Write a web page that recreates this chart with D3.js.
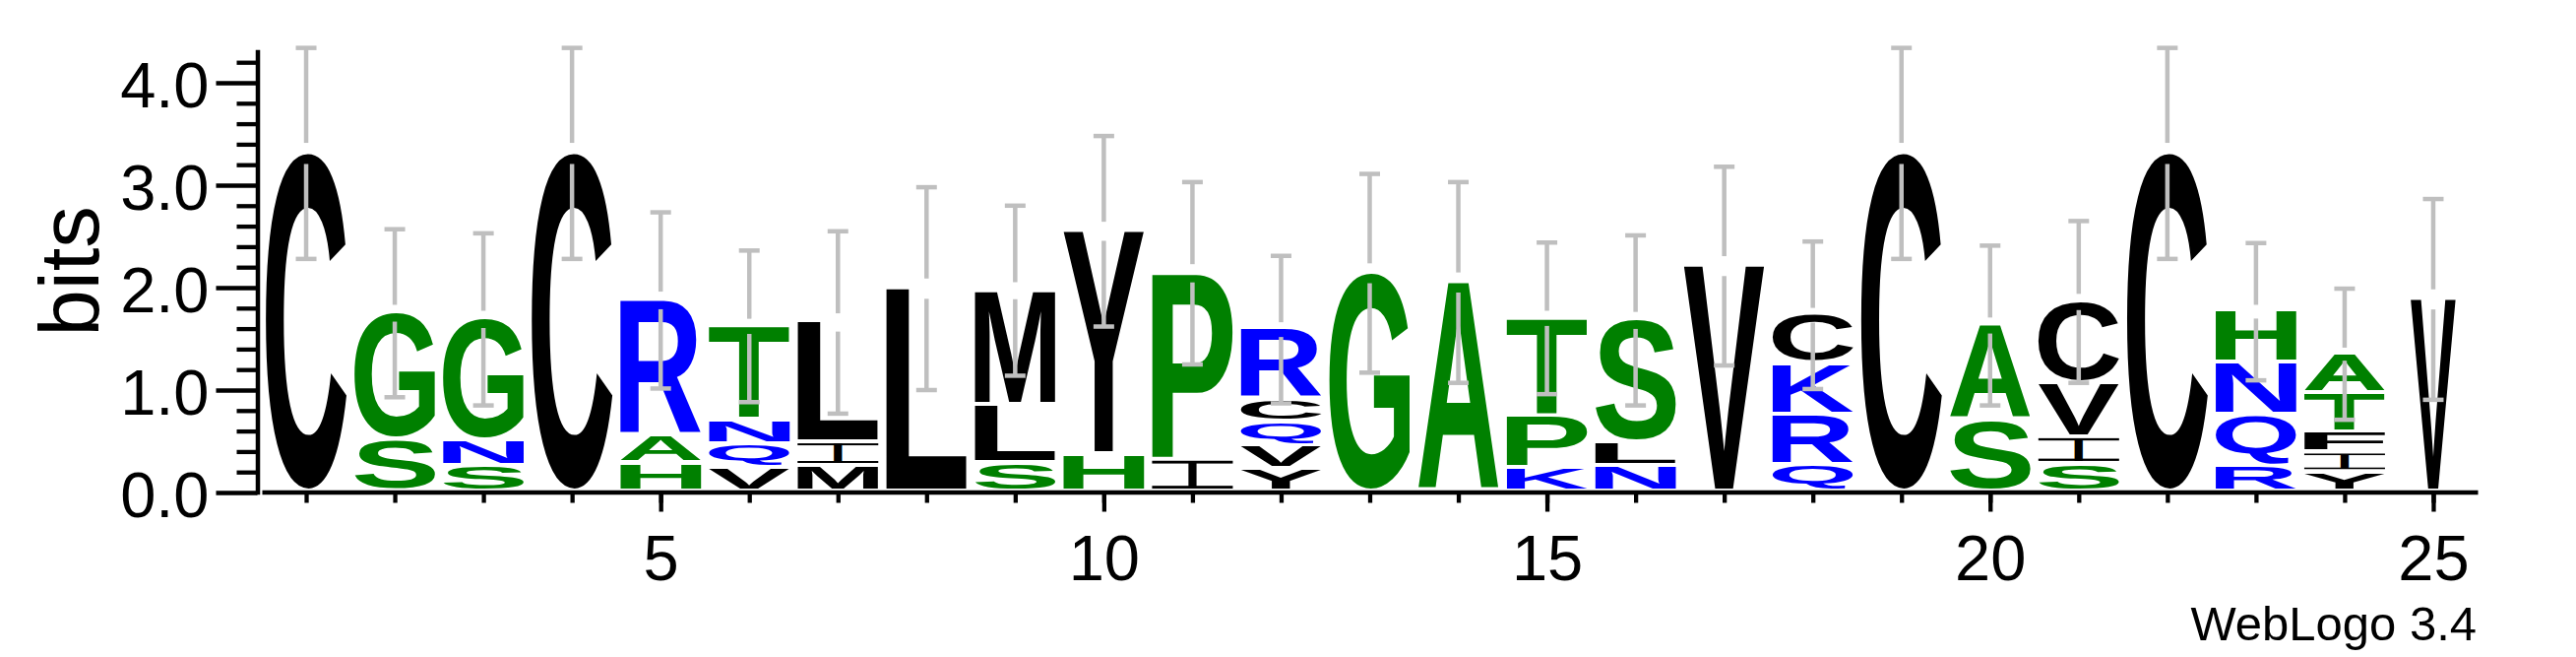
<!DOCTYPE html>
<html><head><meta charset="utf-8">
<script src="https://cdn.jsdelivr.net/npm/d3@7"></script>
<style>html,body{margin:0;padding:0;background:#fff;} svg{display:block}</style>
</head><body>
<script>
// ---------------- data ----------------
const positions = [1,2,3,4,5,6,7,8,9,10,11,12,13,14,15,16,17,18,19,20,21,22,23,24,25];
// letters of each stack, listed from bottom to top
const stackLetters = [
  ["C"], ["S","G"], ["S","N","G"], ["C"], ["H","A","R"],
  ["V","Q","N","T"], ["M","I","L"], ["L"], ["S","L","M"], ["H","Y"],
  ["I","P"], ["Y","V","Q","C","R"], ["G"], ["A"], ["K","P","T"],
  ["N","L","S"], ["V"], ["Q","R","K","C"], ["C"], ["S","A"],
  ["S","I","V","C"], ["C"], ["R","Q","N","H"], ["Y","I","F","T","A"], ["V"]
];
// heights in bits, same order as stackLetters
const stackBits = [
  [3.31], [0.51,1.24], [0.25,0.25,1.19], [3.31], [0.275,0.27,1.33],
  [0.24,0.225,0.237,0.92], [0.25,0.23,1.18], [1.99], [0.28,0.57,1.12], [0.365,2.185],
  [0.31,1.83], [0.22,0.23,0.23,0.22,0.69], [2.14], [2.05], [0.23,0.51,0.96],
  [0.25,0.23,1.20], [2.21], [0.26,0.49,0.50,0.48], [3.31], [0.70,0.93],
  [0.27,0.26,0.53,0.80], [3.31], [0.25,0.50,0.505,0.51], [0.19,0.19,0.195,0.385,0.39], [1.885]
];
// fraction of non-gap symbols in each column (stack width scaling)
const columnOccupancy = [1,1,1,1,1,1,1,1,1,1,1,1,1,1,1,1,1,1,1,1,1,1,1,1,0.56];
// half length of each error bar, bits
const errorBits = [1.03,0.82,0.84,1.03,0.86,0.74,0.89,0.99,0.83,0.93,0.89,0.72,0.97,0.98,0.74,0.83,0.97,0.72,1.03,0.78,0.79,1.03,0.67,0.64,0.98];
const xTickLabels = [5,10,15,20,25];
const yMajorTicks = [0,1,2,3,4];
const yMinorTicks = [0.2,0.4,0.6,0.8,1.2,1.4,1.6,1.8,2.2,2.4,2.6,2.8,3.2,3.4,3.6,3.8,4.2];
const yMax = 4.32;
const hydrophilic = "RKDENQ", neutral = "SGHTAP", hydrophobic = "YVMCLFIW";
const colorOf = ch => hydrophilic.includes(ch) ? "#0000ff" : neutral.includes(ch) ? "#008000" : "#000000";

// ---------------- layout ----------------
const W = 2617, H = 667;
const FONT = '"Liberation Sans", Arial, Helvetica, sans-serif';
const svg = d3.select("body").append("svg").attr("width", W).attr("height", H);

const x = d3.scaleLinear().domain([0.5, 25.5]).range([266, 2517]);
const y = d3.scaleLinear().domain([0, yMax]).range([500, 500 - yMax * 104]);
const stackW = 82;

// glyph ink metrics
const ctx = document.createElement("canvas").getContext("2d");
const GF = 200;
ctx.font = `bold ${GF}px ${FONT}`;
const metricCache = {};
function ink(ch) {
  if (!metricCache[ch]) {
    const m = ctx.measureText(ch);
    let l = m.actualBoundingBoxLeft, r = m.actualBoundingBoxRight,
        a = m.actualBoundingBoxAscent, d = m.actualBoundingBoxDescent;
    if (!(r + l > 0) || !(a + d > 0)) { l = 0; r = GF * 0.7; a = GF * 0.72; d = 0; }
    metricCache[ch] = {l, r, a, d};
  }
  return metricCache[ch];
}
function drawGlyph(g, ch, x0, y0, w, h, color) {
  const m = ink(ch);
  const sx = w / (m.l + m.r), sy = h / (m.a + m.d);
  g.append("text")
    .attr("transform", `translate(${x0},${y0}) scale(${sx},${sy}) translate(${m.l},${m.a})`)
    .attr("font-family", FONT).attr("font-weight", "bold").attr("font-size", GF)
    .attr("fill", color).text(ch);
}

// ---------------- letters ----------------
const gLetters = svg.append("g");
positions.forEach((p, i) => {
  let base = 0;
  const cx = x(p);
  const sw0 = stackW * columnOccupancy[i];
  stackLetters[i].forEach((ch, j) => {
    const h = stackBits[i][j];
    const top = y(base + h);        // glyph top
    const bottom = y(base) - 4;     // glyph bottom
    const gh = bottom - top;
    const color = colorOf(ch);
    if (gh > 0.5) {
      if (ch === "I") {
        const sw = sw0 * 0.105;
        drawGlyph(gLetters, ch, cx - sw / 2, top, sw, gh, color);
        const bh = Math.max(1, gh * 0.1);
        gLetters.append("rect").attr("x", cx - sw0 / 2).attr("y", top).attr("width", sw0).attr("height", bh).attr("fill", color);
        gLetters.append("rect").attr("x", cx - sw0 / 2).attr("y", bottom - bh).attr("width", sw0).attr("height", bh).attr("fill", color);
      } else {
        drawGlyph(gLetters, ch, cx - sw0 / 2, top, sw0, gh, color);
      }
    }
    base += h;
  });
});

// ---------------- error bars ----------------
const gErr = svg.append("g").attr("stroke", "#bfbfbf").attr("stroke-width", 4.5).attr("fill", "none");
positions.forEach((p, i) => {
  const total = d3.sum(stackBits[i]);
  const c = y(total);
  const e = y(0) - y(errorBits[i]);
  const cx = x(p);
  gErr.append("line").attr("x1", cx).attr("x2", cx).attr("y1", c - e).attr("y2", c - 0.1 * e);
  gErr.append("line").attr("x1", cx).attr("x2", cx).attr("y1", c + 0.1 * e).attr("y2", c + e);
  gErr.append("line").attr("x1", cx - 10.5).attr("x2", cx + 10.5).attr("y1", c - e).attr("y2", c - e);
  gErr.append("line").attr("x1", cx - 10.5).attr("x2", cx + 10.5).attr("y1", c + e).attr("y2", c + e);
});

// ---------------- axes ----------------
function styleAxis(g, fs) {
  g.selectAll("line").attr("stroke", "#000").attr("stroke-width", 4.3);
  g.selectAll("path.domain").attr("stroke", "#000").attr("stroke-width", 4.5);
  g.selectAll("text").attr("font-family", FONT).attr("font-size", fs).attr("fill", "#000");
}
// y axis
const yMinor = svg.append("g").attr("transform", "translate(261.5,0)")
  .call(d3.axisLeft(y).tickValues(yMinorTicks).tickSize(21).tickSizeOuter(0).tickFormat(""));
yMinor.select("path.domain").remove();
styleAxis(yMinor, 65);
const yMajor = svg.append("g").attr("transform", "translate(261.5,0)")
  .call(d3.axisLeft(y).tickValues(yMajorTicks).tickSize(42).tickSizeOuter(0).tickPadding(7).tickFormat(d3.format(".1f")));
yMajor.select("path.domain").remove();
styleAxis(yMajor, 65);
yMajor.selectAll("text").attr("dy", "0.375em");
svg.append("line").attr("x1", 262).attr("x2", 262).attr("y1", y(0) + 2.3).attr("y2", y(yMax))
  .attr("stroke", "#000").attr("stroke-width", 4.5);

// x axis
const xMinor = svg.append("g").attr("transform", "translate(0,499.5)")
  .call(d3.axisBottom(x).tickValues(positions).tickSize(11).tickSizeOuter(0).tickFormat(""));
styleAxis(xMinor, 65);
const xMajor = svg.append("g").attr("transform", "translate(0,499.5)")
  .call(d3.axisBottom(x).tickValues(xTickLabels).tickSize(20).tickSizeOuter(0).tickPadding(23).tickFormat(d3.format("d")));
xMajor.select("path.domain").remove();
styleAxis(xMajor, 65);

// labels
svg.append("text").attr("transform", `translate(100,${(y(0) + y(yMax)) / 2}) rotate(-90)`)
  .attr("text-anchor", "middle").attr("font-family", FONT).attr("font-size", 85).text("bits");
svg.append("text").attr("x", 2516).attr("y", 650).attr("text-anchor", "end")
  .attr("font-family", FONT).attr("font-size", 49).text("WebLogo 3.4");
</script>
</body></html>
